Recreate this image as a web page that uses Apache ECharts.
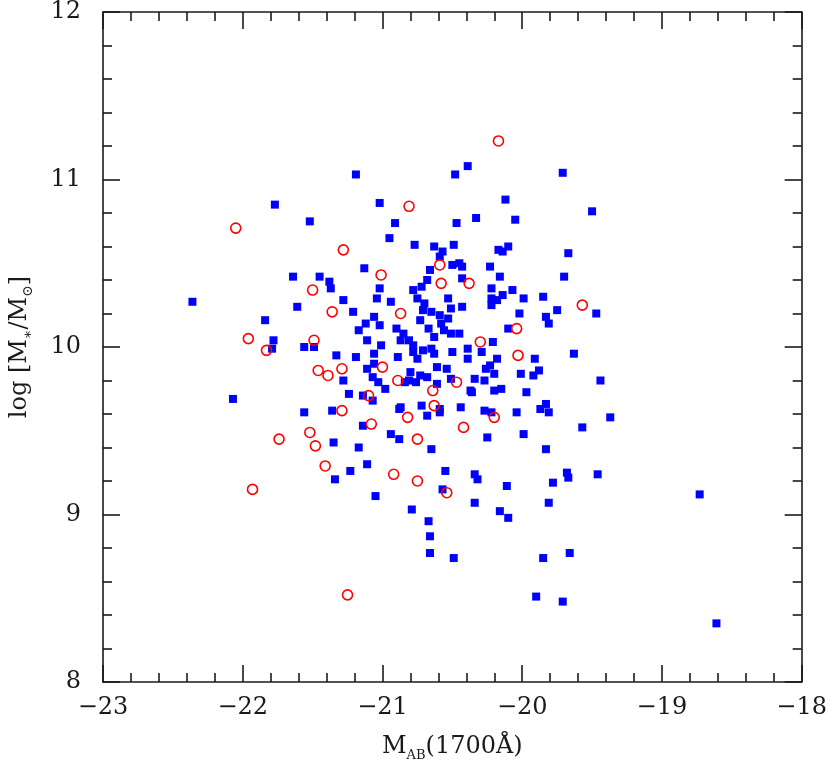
<!DOCTYPE html>
<html>
<head>
<meta charset="utf-8">
<script src="https://cdn.jsdelivr.net/npm/echarts@6/dist/echarts.min.js"></script>
<style>
  html, body { margin: 0; padding: 0; background: #fff; }
  #chart { width: 830px; height: 769px; }
</style>
</head>
<body>
<div id="chart"></div>
<script>
// [M_AB(1700A), log M*] pairs
const blueSample = [
  [-21.77,10.85],[-21.52,10.75],[-21.64,10.42],[-21.45,10.42],[-21.19,11.03],[-20.39,11.08],[-20.48,11.03],
  [-21.02,10.86],[-20.91,10.74],[-20.33,10.77],[-20.47,10.74],[-20.95,10.65],[-20.77,10.61],[-20.63,10.60],
  [-20.57,10.57],[-20.49,10.61],[-20.59,10.54],[-20.50,10.49],[-20.45,10.50],[-20.43,10.48],[-21.13,10.47],
  [-20.66,10.46],[-20.68,10.40],[-20.72,10.36],[-20.43,10.41],[-21.38,10.39],[-21.37,10.35],[-21.02,10.35],
  [-20.78,10.34],[-19.71,11.04],[-20.12,10.88],[-20.05,10.76],[-19.50,10.81],[-20.10,10.60],[-20.17,10.58],
  [-20.14,10.57],[-19.67,10.56],[-20.23,10.48],[-20.16,10.42],[-19.70,10.42],[-20.22,10.35],[-20.07,10.34],
  [-22.36,10.27],[-21.61,10.24],[-21.84,10.16],[-21.78,10.04],[-21.79,9.99],[-21.56,10.00],[-21.49,10.00],
  [-22.07,9.69],[-21.56,9.61],[-21.28,10.28],[-21.04,10.29],[-20.94,10.27],[-20.75,10.29],[-20.70,10.26],
  [-20.53,10.29],[-21.21,10.21],[-20.71,10.22],[-20.65,10.21],[-20.51,10.23],[-20.43,10.24],[-21.06,10.18],
  [-20.59,10.19],[-20.58,10.14],[-20.53,10.17],[-20.73,10.16],[-21.12,10.14],[-21.17,10.10],[-21.02,10.13],
  [-20.90,10.11],[-20.67,10.11],[-20.85,10.08],[-20.56,10.10],[-20.51,10.08],[-20.45,10.08],[-21.11,10.04],
  [-20.87,10.04],[-20.81,10.04],[-20.63,10.06],[-21.01,10.01],[-20.78,10.01],[-20.78,9.97],[-20.71,9.98],
  [-20.65,9.99],[-20.63,9.96],[-20.50,9.97],[-20.39,9.99],[-20.75,9.93],[-20.39,9.93],[-21.33,9.95],
  [-21.19,9.94],[-21.06,9.96],[-20.89,9.94],[-21.06,9.90],[-21.11,9.87],[-20.61,9.88],[-20.54,9.87],
  [-20.80,9.85],[-20.73,9.83],[-20.68,9.82],[-20.84,9.79],[-20.81,9.80],[-20.76,9.79],[-20.61,9.78],
  [-20.51,9.81],[-20.34,9.81],[-21.28,9.80],[-21.07,9.82],[-21.03,9.79],[-20.98,9.75],[-20.37,9.74],
  [-20.36,9.73],[-21.24,9.72],[-21.14,9.71],[-21.07,9.68],[-20.72,9.65],[-20.59,9.63],[-20.59,9.61],
  [-20.44,9.64],[-20.87,9.64],[-20.88,9.63],[-21.36,9.62],[-20.68,9.59],[-21.14,9.53],[-20.94,9.48],
  [-20.88,9.45],[-21.35,9.43],[-21.17,9.40],[-20.65,9.39],[-20.14,10.31],[-19.99,10.29],[-19.85,10.30],
  [-20.22,10.29],[-20.18,10.28],[-20.22,10.25],[-19.75,10.22],[-20.02,10.20],[-19.47,10.20],[-19.83,10.18],
  [-19.81,10.14],[-20.10,10.11],[-20.21,10.03],[-20.29,9.97],[-20.18,9.93],[-19.91,9.93],[-19.63,9.96],
  [-20.23,9.89],[-20.26,9.87],[-20.20,9.84],[-20.01,9.84],[-19.88,9.86],[-19.92,9.83],[-20.27,9.80],
  [-19.44,9.80],[-20.20,9.74],[-20.15,9.75],[-19.97,9.73],[-19.83,9.66],[-19.87,9.63],[-19.81,9.61],
  [-20.27,9.62],[-20.22,9.61],[-20.04,9.61],[-19.37,9.58],[-19.57,9.52],[-20.25,9.46],[-19.99,9.48],
  [-19.83,9.39],[-21.34,9.21],[-21.23,9.26],[-21.11,9.30],[-20.55,9.26],[-20.34,9.24],[-20.32,9.21],
  [-20.57,9.15],[-20.34,9.07],[-21.05,9.11],[-20.79,9.03],[-20.67,8.96],[-20.66,8.87],[-20.66,8.77],
  [-20.49,8.74],[-20.11,9.17],[-19.68,9.25],[-19.67,9.22],[-19.46,9.24],[-19.78,9.19],[-19.81,9.07],
  [-20.16,9.02],[-20.10,8.98],[-19.85,8.74],[-19.66,8.77],[-19.90,8.51],[-19.71,8.48],[-18.73,9.12],
  [-18.61,8.35]
];
const redSample = [
  [-22.05,10.71],[-21.50,10.34],[-20.81,10.84],[-21.28,10.58],[-20.59,10.49],[-21.01,10.43],[-20.58,10.38],
  [-20.38,10.38],[-20.17,11.23],[-21.96,10.05],[-21.83,9.98],[-21.49,10.04],[-21.46,9.86],[-21.52,9.49],
  [-21.74,9.45],[-21.48,9.41],[-21.36,10.21],[-20.87,10.20],[-20.30,10.03],[-21.00,9.88],[-21.29,9.87],
  [-21.39,9.83],[-20.89,9.80],[-20.47,9.79],[-20.64,9.74],[-21.10,9.71],[-20.63,9.65],[-21.29,9.62],
  [-20.82,9.58],[-21.08,9.54],[-20.42,9.52],[-20.75,9.45],[-19.57,10.25],[-20.04,10.11],[-20.03,9.95],
  [-20.20,9.58],[-21.93,9.15],[-21.41,9.29],[-20.92,9.24],[-20.75,9.20],[-20.54,9.13],[-21.25,8.52]
];
const magTicks = [-23, -22, -21, -20, -19, -18];
const massTicks = [8, 9, 10, 11, 12];

const ink = '#1a1a1a';
const serif = 'DejaVu Serif';

function frameAxis (position, showLabel, lo, hi) {
  return {
    type: 'value',
    position: position,
    min: lo,
    max: hi,
    interval: 1,
    axisLine: { show: true, onZero: false, lineStyle: { color: ink, width: 1.6 } },
    axisTick: { show: true, inside: true, length: 17, lineStyle: { color: ink, width: 1.6 } },
    minorTick: { show: true, splitNumber: 5, length: 9, lineStyle: { color: ink, width: 1.6 } },
    splitLine: { show: false },
    axisLabel: {
      show: showLabel,
      color: ink,
      fontFamily: serif,
      fontSize: 24,
      formatter: v => (v < 0 ? '\u2212' + Math.abs(v) : String(v))
    }
  }
}

const chart = echarts.init(document.getElementById('chart'))

const xBottom = frameAxis('bottom', true, magTicks[0], magTicks[magTicks.length - 1])
xBottom.axisLabel.margin = 14
xBottom.name = '{a|M}{b|AB}{a|(1700\u00c5)}'
xBottom.nameLocation = 'middle'
xBottom.nameGap = 50
xBottom.nameTextStyle = {
  rich: {
    a: { fontFamily: serif, fontSize: 24, color: ink, lineHeight: 30 },
    b: { fontFamily: serif, fontSize: 13, color: ink, lineHeight: 14, verticalAlign: 'bottom' }
  }
}
const xTop = frameAxis('top', false, magTicks[0], magTicks[magTicks.length - 1])

const yLeft = frameAxis('left', true, massTicks[0], massTicks[massTicks.length - 1])
yLeft.axisLabel.margin = 22
yLeft.name = '{a|log [M}{b|\u2217}{a|/M}{b|\u2299}{a|]}'
yLeft.nameLocation = 'middle'
yLeft.nameRotate = 90
yLeft.nameGap = 68
yLeft.nameTextStyle = {
  rich: {
    a: { fontFamily: serif, fontSize: 24, color: ink, lineHeight: 30 },
    b: { fontFamily: serif, fontSize: 14, color: ink, lineHeight: 14, verticalAlign: 'bottom' }
  }
}
const yRight = frameAxis('right', false, massTicks[0], massTicks[massTicks.length - 1])

chart.setOption({
  animation: false,
  backgroundColor: '#fff',
  grid: { left: 102, right: 28, top: 10, bottom: 87 },
  xAxis: [xBottom, xTop],
  yAxis: [yLeft, yRight],
  series: [
    {
      name: 'blue',
      type: 'scatter',
      xAxisIndex: 0,
      yAxisIndex: 0,
      symbol: 'rect',
      symbolSize: 8,
      itemStyle: { color: '#0000ff', opacity: 1 },
      data: blueSample,
      z: 2
    },
    {
      name: 'red',
      type: 'scatter',
      xAxisIndex: 0,
      yAxisIndex: 0,
      symbol: 'circle',
      symbolSize: 10,
      itemStyle: { color: 'rgba(0,0,0,0)', borderColor: '#ff0000', borderWidth: 1.6, opacity: 1 },
      data: redSample,
      z: 3
    }
  ]
})
</script>
</body>
</html>
